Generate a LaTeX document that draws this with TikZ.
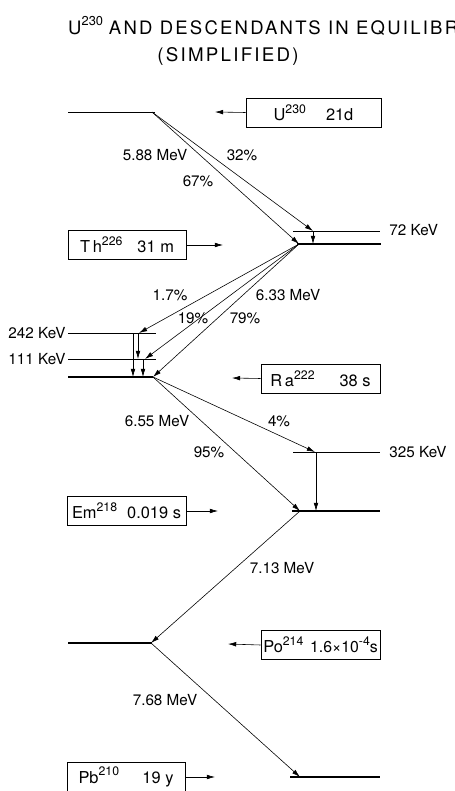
\documentclass[tikz,border=0pt]{standalone}
\usepackage{fontspec}
\setmainfont{TeX Gyre Heros}
\usetikzlibrary{arrows.meta}
\tikzset{>={Latex[length=7pt,width=4pt]}}
\tikzset{
  lvl/.style={line width=0.5pt},
  gnd/.style={line width=1.2pt},
  decay/.style={->,line width=0.5pt},
  nucl/.style={draw,line width=0.6pt,minimum width=#1,inner xsep=0pt,
    minimum height=0.87cm,font=\fontsize{14}{16}\selectfont},
  lab/.style={font=\fontsize{13}{15}\selectfont,inner sep=1pt}
}
\newcommand{\massno}[1]{\raisebox{0.85ex}{\fontsize{10.5}{11}\selectfont #1}}

\begin{document}
\begin{tikzpicture}[x=0.03cm,y=-0.03cm]
\useasboundingbox[fill=white] (0,0) rectangle (455,791);
\begin{scope}
  \clip (0,0) rectangle (455,791);
  \node[anchor=base west,font=\fontsize{15.8}{18}\selectfont,inner sep=0] (title) at (68,35)
    {U\raisebox{1ex}{\fontsize{11}{12}\selectfont 230}\hspace{5pt}\addfontfeatures{LetterSpace=12}AND DESCENDANTS IN EQUILIBRIUM};
\end{scope}
\node[anchor=base,font=\fontsize{16}{18}\selectfont\addfontfeatures{LetterSpace=12},inner sep=0] (sub) at (228,62) {(SIMPLIFIED)};

% levels
\draw[lvl] (68,112) -- (155,112);
\draw[lvl] (293,231) -- (380,231);
\draw[gnd] (297,244) -- (381,244);
\draw[lvl] (68,333) -- (156,333);
\draw[lvl] (68,359) -- (156,359);
\draw[gnd] (68,377) -- (153,377);
\draw[lvl] (293,452) -- (380,452);
\draw[gnd] (292,511) -- (380,511);
\draw[gnd] (68,643) -- (152,643);
\draw[gnd] (290,777) -- (380,777);

\coordinate (u0) at (152,112);
\coordinate (th1) at (313,231);
\coordinate (th0) at (299,244);
\coordinate (ra2) at (139,333);
\coordinate (ra1) at (145,359);
\coordinate (ra0) at (153,377);
\coordinate (em1) at (315,452);
\coordinate (em0) at (300,511);
\coordinate (po0) at (151,643);
\coordinate (pb0) at (300,777);

% alpha decays
\draw[decay] (u0) -- (th1);
\draw[decay] (u0) -- (th0);
\draw[decay] (th0) -- (ra2);
\draw[decay] (th0) -- (ra1);
\draw[decay] (th0) -- (ra0);
\draw[decay] (ra0) -- (em1);
\draw[decay] (ra0) -- (em0);
\draw[decay] (em0) -- (po0);
\draw[decay] (po0) -- (pb0);

% gamma transitions
\draw[decay] (313,231) -- (313,244);
\draw[decay] (133,333) -- (133,377);
\draw[decay] (138,333) -- (138,359);
\draw[decay] (143,359) -- (143,377);
\draw[decay] (316,452) -- (316,511);

% level energies
\node[lab,anchor=west] (k72) at (388,230) {72 KeV};
\node[lab,anchor=east] (k242) at (67,333) {242 KeV};
\node[lab,anchor=east] (k111) at (67,359) {111 KeV};
\node[lab,anchor=west] (k325) at (388,452) {325 KeV};

% branch labels
\node[lab] (e1) at (155,155) {5.88 MeV};
\node[lab] (b32) at (242,155) {32\%};
\node[lab] (b67) at (198,181) {67\%};
\node[lab] (b17) at (170,295) {1.7\%};
\node[lab] (e2) at (288,295) {6.33 MeV};
\node[lab] (b19) at (193,318) {19\%};
\node[lab] (b79) at (245,318) {79\%};
\node[lab] (e3) at (157,421) {6.55 MeV};
\node[lab] (b4) at (279,421) {4\%};
\node[lab] (b95) at (209,452) {95\%};
\node[lab] (e4) at (282,568) {7.13 MeV};
\node[lab] (e5) at (165,700) {7.68 MeV};

% nuclides
\node[nucl=4.05cm] (U) at (313.5,112.5) {U\massno{230}\hspace{0.6cm}21d\hspace{1.2cm}};
\node[nucl=3.54cm] (Th) at (127,245) {T\,h\massno{226}\hspace{0.45cm}31 m};
\node[nucl=3.57cm] (Ra) at (320.5,378.5) {R\,a\massno{222}\hspace{0.75cm}38 s\hspace{0.15cm}};
\node[nucl=3.57cm] (Em) at (126.5,511) {Em\massno{218}\hspace{0.3cm}0.019 s};
\node[nucl=3.57cm] (Po) at (320.5,645) {Po\massno{214}\hspace{0.2cm}{\fontsize{13.5}{15}\selectfont 1.6×10\massno{-4}s}};
\node[nucl=3.54cm] (Pb) at (126,777) {Pb\massno{210}\hspace{0.7cm}19 y\hspace{0.5cm}};

\coordinate (uend) at (215,112);
\coordinate (thend) at (223,245);
\coordinate (raend) at (232,378);
\coordinate (emend) at (218,511);
\coordinate (poend) at (228,644);
\coordinate (pbend) at (215,777);
\draw[decay] (U.west) -- (uend);
\draw[decay] (Th.east) -- (thend);
\draw[decay] (Ra.west) -- (raend);
\draw[decay] (Em.east) -- (emend);
\draw[decay] (Po.west) -- (poend);
\draw[decay] (Pb.east) -- (pbend);
\end{tikzpicture}
\end{document}
